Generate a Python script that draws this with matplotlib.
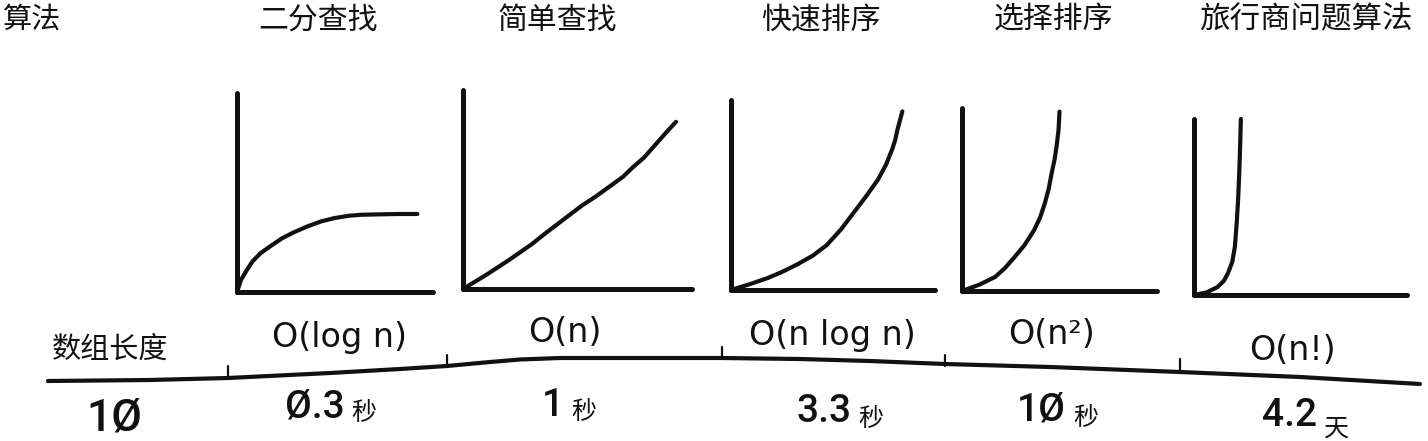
import matplotlib
matplotlib.use("Agg")
import matplotlib.pyplot as plt

# ---------------- data ----------------
algorithms = ["二分查找", "简单查找", "快速排序", "选择排序", "旅行商问题算法"]
complexities = ["O(log n)", "O(n)", "O(n log n)", "O(n²)", "O(n!)"]
run_times = ["Ø.3", "1", "3.3", "1Ø", "4.2"]
time_units = ["秒", "秒", "秒", "秒", "天"]
header_left = "算法"
size_label = "数组长度"
size_value = "1Ø"

# curve points (n on x, time on y, both on a 0-10 scale)
logn_x = [0.0, 0.2, 0.5, 0.8, 1.2, 1.7, 2.3, 2.9, 3.6, 4.3, 5.0, 5.7, 6.3, 7.2, 8.2, 9.2]
logn_y = [0.0, 0.6, 1.1, 1.55, 1.95, 2.3, 2.7, 3.0, 3.3, 3.55, 3.72, 3.83, 3.88, 3.9, 3.92, 3.92]
n_x = [0.0, 1.0, 2.0, 3.0, 3.6, 4.4, 5.2, 5.8, 6.4, 7.0, 7.4, 7.9, 8.4, 8.9, 9.3]
n_y = [0.0, 0.7, 1.45, 2.25, 2.8, 3.5, 4.2, 4.65, 5.15, 5.65, 6.1, 6.6, 7.25, 7.9, 8.4]
nlogn_x = [0.0, 0.9, 1.8, 2.5, 3.2, 4.0, 4.7, 5.4, 6.0, 6.6, 7.2, 7.6, 7.9, 8.05, 8.15, 8.3, 8.4]
nlogn_y = [0.0, 0.3, 0.63, 0.95, 1.32, 1.8, 2.37, 3.2, 4.05, 4.9, 5.8, 6.6, 7.4, 7.9, 8.4, 9.0, 9.4]
n2_x = [0.0, 0.9, 1.7, 2.2, 2.7, 3.2, 3.7, 4.0, 4.25, 4.45, 4.6, 4.75, 4.85, 4.95, 5.0]
n2_y = [0.0, 0.35, 0.77, 1.25, 1.86, 2.5, 3.33, 4.0, 4.8, 5.6, 6.45, 7.2, 7.9, 8.8, 9.8]
nfact_x = [0.0, 0.6, 1.1, 1.4, 1.6, 1.8, 1.92, 2.0, 2.07, 2.12, 2.16, 2.2]
nfact_y = [0.0, 0.15, 0.45, 0.8, 1.25, 1.9, 2.75, 4.0, 5.4, 6.8, 8.2, 10.0]
curves = [(logn_x, logn_y), (n_x, n_y), (nlogn_x, nlogn_y), (n2_x, n2_y), (nfact_x, nfact_y)]

# hand-drawn baseline of the timeline (figure pixel space)
timeline_x = [48, 150, 228, 330, 400, 447, 490, 520, 560, 600, 722, 800, 870, 945,
              1050, 1180, 1300, 1420]
timeline_y = [381, 380, 378, 373, 369, 366, 362, 359.5, 358, 358, 358, 359, 361, 364,
              367, 372, 377, 384]
tick_x = [228, 447, 722, 945, 1180]
tick_top = [366, 355, 347, 355, 359]
tick_bottom = [379, 367, 359, 366, 373]

# ---------------- layout ----------------
W, H = 1428, 441
fig = plt.figure(figsize=(W / 100, H / 100), dpi=100)
fig.patch.set_facecolor("white")

CJK = ["Noto Sans CJK SC", "DejaVu Sans"]
LAT = ["DejaVu Sans"]
NUM = ["Roboto", "DejaVu Sans"]
INK = "#111111"

bg = fig.add_axes([0, 0, 1, 1])
bg.set_xlim(0, W)
bg.set_ylim(H, 0)
bg.axis("off")

# timeline
bg.plot(timeline_x, timeline_y, color=INK, lw=3.0, solid_capstyle="round", solid_joinstyle="round")
for x, t, b in zip(tick_x, tick_top, tick_bottom):
    bg.plot([x, x], [t, b], color=INK, lw=1.6, solid_capstyle="round")

# panel boxes in pixels: (origin_x, origin_y, right_x, top_y)
boxes = [(237, 292, 433, 93), (463, 289, 692, 90), (731, 290, 935, 100),
         (962, 291, 1157, 108), (1194, 295, 1407, 119)]
for (ox, oy, rx, ty), (cx, cy) in zip(boxes, curves):
    ax = fig.add_axes([ox / W, (H - oy) / H, (rx - ox) / W, (oy - ty) / H])
    ax.set_xlim(0, 10)
    ax.set_ylim(0, 10)
    ax.set_facecolor("none")
    for s in ("top", "right"):
        ax.spines[s].set_visible(False)
    for s in ("left", "bottom"):
        ax.spines[s].set_linewidth(3.6)
        ax.spines[s].set_color(INK)
        ax.spines[s].set_capstyle("round")
    ax.set_xticks([])
    ax.set_yticks([])
    ax.plot(cx, cy, color=INK, lw=3.0, solid_capstyle="round",
            solid_joinstyle="round", clip_on=False)

# header texts
bg.text(3, 20, header_left, fontsize=21, family=CJK, va="center", ha="left", color=INK)
title_cx = [318, 557, 821, 1053, 1306]
title_fs = [21.5, 21.5, 21.5, 21.5, 22]
for x, t, fs in zip(title_cx, algorithms, title_fs):
    bg.text(x, 20, t, fontsize=fs, family=CJK, va="center", ha="center", color=INK)

# complexity labels
cplx_cx = [340, 565, 832, 1052, 1292]
cplx_cy = [338, 333, 335, 335, 350]
for x, y, t in zip(cplx_cx, cplx_cy, complexities):
    bg.text(x, y, t, fontsize=24, family=LAT, va="center", ha="center", color=INK)

# size label and value
bg.text(52, 350, size_label, fontsize=21, family=CJK, va="center", ha="left", color=INK)
bg.text(114, 419, size_value, fontsize=32, family=NUM, fontweight="medium",
        va="center", ha="center", color=INK)

# run times
rt_x = [285, 542, 796, 1017, 1262]
rt_y = [407, 406, 411, 410, 415]
unit_dy = [6, 6, 8, 8, 14]
for x, y, t, u, d in zip(rt_x, rt_y, run_times, time_units, unit_dy):
    txt = bg.text(x, y, t, fontsize=28, family=NUM, fontweight="medium",
                  va="center", ha="left", color=INK)
    fig.canvas.draw()
    bb = txt.get_window_extent()
    x_end = bg.transData.inverted().transform((bb.x1, bb.y0))[0]
    bg.text(x_end + 7, y + d, u, fontsize=18, family=CJK, va="center", ha="left", color=INK)

fig.savefig("out.png", dpi=100, facecolor="white")
